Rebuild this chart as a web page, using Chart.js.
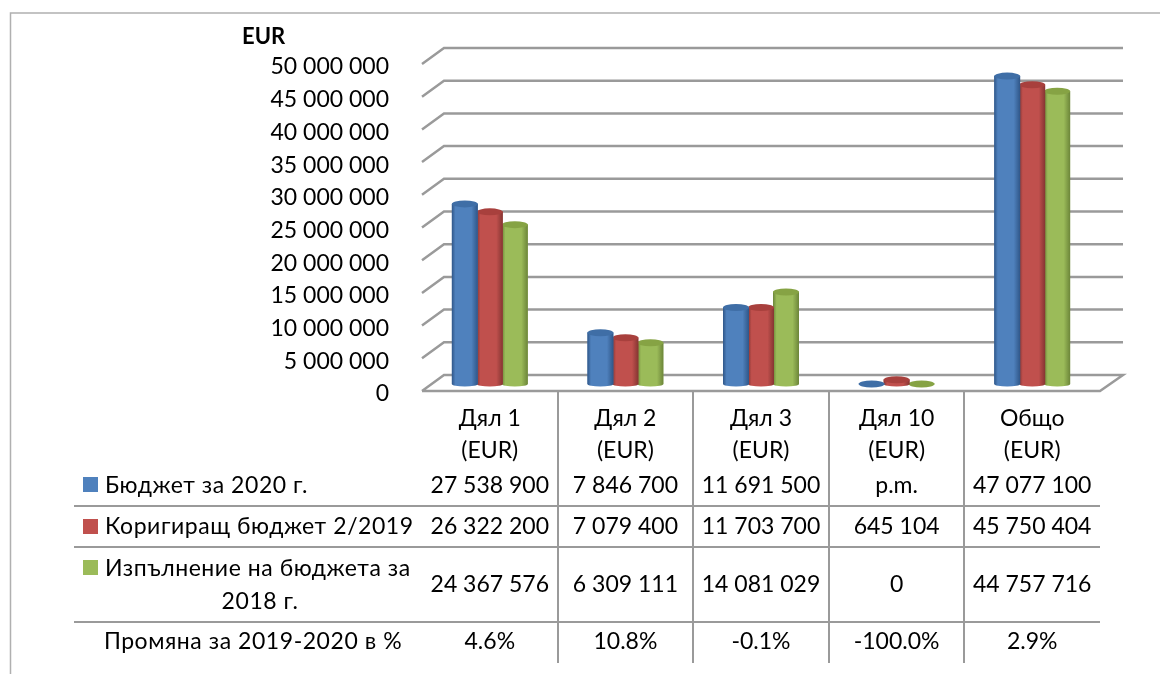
<!DOCTYPE html>
<html>
<head>
<meta charset="utf-8">
<style>
    html, body { margin: 0; padding: 0; background: #FFFFFF; }
    #box { position: relative; width: 1160px; height: 674px; }
</style>
<script src="https://cdn.jsdelivr.net/npm/chart.js@4"></script>
</head>
<body>
<div id="box"><canvas id="chartBudget" width="1160" height="674"></canvas></div>
<script>
// Data -----------------------------------------------------------------------
var categories = [['Дял 1', '(EUR)'], ['Дял 2', '(EUR)'], ['Дял 3', '(EUR)'], ['Дял 10', '(EUR)'], ['Общо', '(EUR)']];
var seriesNames = ['Бюджет за 2020 г.', 'Коригиращ бюджет 2/2019', 'Изпълнение на бюджета за 2018 г.'];
var budget2020 = [27538900, 7846700, 11691500, 0, 47077100];
var amending2019 = [26322200, 7079400, 11703700, 645104, 45750404];
var execution2018 = [24367576, 6309111, 14081029, 0, 44757716];
var budget2020Text = ['27 538 900', '7 846 700', '11 691 500', 'p.m.', '47 077 100'];
var amending2019Text = ['26 322 200', '7 079 400', '11 703 700', '645 104', '45 750 404'];
var execution2018Text = ['24 367 576', '6 309 111', '14 081 029', '0', '44 757 716'];
var changeName = 'Промяна за 2019-2020 в %';
var changeText = ['4.6%', '10.8%', '-0.1%', '-100.0%', '2.9%'];
var unitLabel = 'EUR';

// Style ----------------------------------------------------------------------
var fontName = 'Lato, "Open Sans", sans-serif';
var fontSize = 23;
var gridColor = '#9A9A9A';
var colors = ['#4F81BD', '#C0504D', '#9BBB59'];
var edgeColors = ['#2F5688', '#853532', '#6C8539'];
var capColors = ['#3F6EA6', '#A8403D', '#86A344'];

function formatTick(value) {
    return String(value).replace(/\B(?=(\d{3})+$)/g, ' ');
}

// Wall, floor and gridlines, drawn from the y scale ---------------------------
var wallPlugin = {
    id: 'wall',
    beforeDatasetsDraw: function(chart) {
        var ctx = chart.ctx;
        var y = chart.scales.y;
        var left = chart.chartArea.left;
        var right = chart.chartArea.right;
        ctx.save();
        ctx.strokeStyle = gridColor;
        ctx.lineWidth = 2.5;
        y.ticks.forEach(function(tick) {
            var py = y.getPixelForValue(tick.value);
            ctx.beginPath();
            ctx.moveTo(left, py + 7);
            ctx.lineTo(left + 22, py - 9);
            ctx.lineTo(right + 23, py - 9);
            if (tick.value === 0) {
                ctx.lineTo(right, py + 7);
                ctx.lineTo(left, py + 7);
            }
            ctx.stroke();
        });
        ctx.restore();
    },
    // Round bodies and caps on top of each bar element
    afterDatasetDraw: function(chart, args) {
        var ctx = chart.ctx;
        var i = args.index;
        ctx.save();
        args.meta.data.forEach(function(bar) {
            var w = bar.width + 1;
            var x0 = bar.x - w / 2;
            if (bar.base - bar.y > 0.5) {
                var grad = ctx.createLinearGradient(x0, 0, x0 + w, 0);
                grad.addColorStop(0, edgeColors[i]);
                grad.addColorStop(0.14, colors[i]);
                grad.addColorStop(0.75, colors[i]);
                grad.addColorStop(1, edgeColors[i]);
                ctx.fillStyle = grad;
                ctx.beginPath();
                ctx.ellipse(bar.x, bar.base, w / 2, 2.5, 0, 0, Math.PI);
                ctx.lineTo(x0, bar.y);
                ctx.lineTo(x0 + w, bar.y);
                ctx.closePath();
                ctx.fill();
            }
            ctx.fillStyle = capColors[i];
            ctx.beginPath();
            ctx.ellipse(bar.x, bar.y, w / 2, 3.5, 0, 0, Math.PI * 2);
            ctx.fill();
        });
        ctx.restore();
    },
    // Data table under the chart, frame and unit label
    afterDraw: function(chart) {
        var ctx = chart.ctx;
        var x = chart.scales.x;
        var right = chart.chartArea.right;
        var rows = [
            { center: 486, values: budget2020Text, key: 0, keyTop: 477, lines: [[seriesNames[0], 105, 'left']] },
            { center: 527, values: amending2019Text, key: 1, keyTop: 519, lines: [[seriesNames[1], 105, 'left']] },
            { center: 585, values: execution2018Text, key: 2, keyTop: 560, lines: [['Изпълнение на бюджета за', 105, 'left'], ['2018 г.', 260, 'center']] },
            { center: 642, values: changeText, key: -1, lines: [[changeName, 253, 'center']] }
        ];
        var ruleYs = [506, 547, 622];
        var columnXs = [558, 693, 829, 964];

        ctx.save();
        ctx.strokeStyle = '#B0B0B0';
        ctx.lineWidth = 1.5;
        ctx.beginPath();
        ctx.moveTo(10.5, 674);
        ctx.lineTo(10.5, 13);
        ctx.lineTo(1160, 13);
        ctx.stroke();

        ctx.strokeStyle = gridColor;
        ctx.lineWidth = 2;
        ruleYs.forEach(function(ry) {
            ctx.beginPath();
            ctx.moveTo(74, ry);
            ctx.lineTo(right, ry);
            ctx.stroke();
        });
        columnXs.forEach(function(cx) {
            ctx.beginPath();
            ctx.moveTo(cx, 391);
            ctx.lineTo(cx, 663);
            ctx.stroke();
        });

        ctx.fillStyle = '#000000';
        ctx.font = 'bold 22px ' + fontName;
        ctx.textAlign = 'left';
        ctx.textBaseline = 'middle';
        ctx.fillText(unitLabel, 242, 37);

        ctx.font = fontSize + 'px ' + fontName;
        rows.forEach(function(row) {
            ctx.letterSpacing = '0px';
            ctx.textAlign = 'center';
            ctx.fillStyle = '#000000';
            row.values.forEach(function(text, c) {
                ctx.fillText(text, x.getPixelForValue(c), row.center);
            });
            if (row.key >= 0) {
                ctx.fillStyle = colors[row.key];
                ctx.fillRect(83, row.keyTop, 15, 15);
            }
            ctx.fillStyle = '#000000';
            ctx.letterSpacing = '0.55px';
            row.lines.forEach(function(line, n) {
                var lineY = row.center + (n - (row.lines.length - 1) / 2) * 33;
                ctx.textAlign = line[2];
                ctx.fillText(line[0], line[1], lineY);
            });
        });
        ctx.restore();
    }
};

// Chart ----------------------------------------------------------------------
const chartBudget = new Chart(document.getElementById('chartBudget').getContext('2d'), {
    type: 'bar',
    data: {
        labels: categories,
        datasets: [
            { label: seriesNames[0], data: budget2020, backgroundColor: colors[0] },
            { label: seriesNames[1], data: amending2019, backgroundColor: colors[1] },
            { label: seriesNames[2], data: execution2018, backgroundColor: colors[2] }
        ]
    },
    options: {
        responsive: false,
        animation: false,
        layout: {
            padding: { top: 57, right: 60, left: 0, bottom: 0 }
        },
        datasets: {
            bar: { barThickness: 25 }
        },
        plugins: {
            legend: { display: false },
            title: { display: false },
            tooltip: { enabled: false }
        },
        scales: {
            x: {
                grid: { display: false },
                border: { display: false },
                afterFit: function(scale) { scale.height = 290; },
                ticks: {
                    color: '#000000',
                    padding: 11,
                    maxRotation: 0,
                    autoSkip: false,
                    font: { family: fontName, size: fontSize, lineHeight: 1.39 }
                }
            },
            y: {
                min: 0,
                max: 50000000,
                grid: { display: false },
                border: { display: false },
                afterFit: function(scale) { scale.width = 422; },
                ticks: {
                    stepSize: 5000000,
                    color: '#000000',
                    padding: 25,
                    labelOffset: 10,
                    callback: formatTick,
                    font: { family: fontName, size: fontSize }
                }
            }
        }
    },
    plugins: [wallPlugin]
});
</script>
</body>
</html>
